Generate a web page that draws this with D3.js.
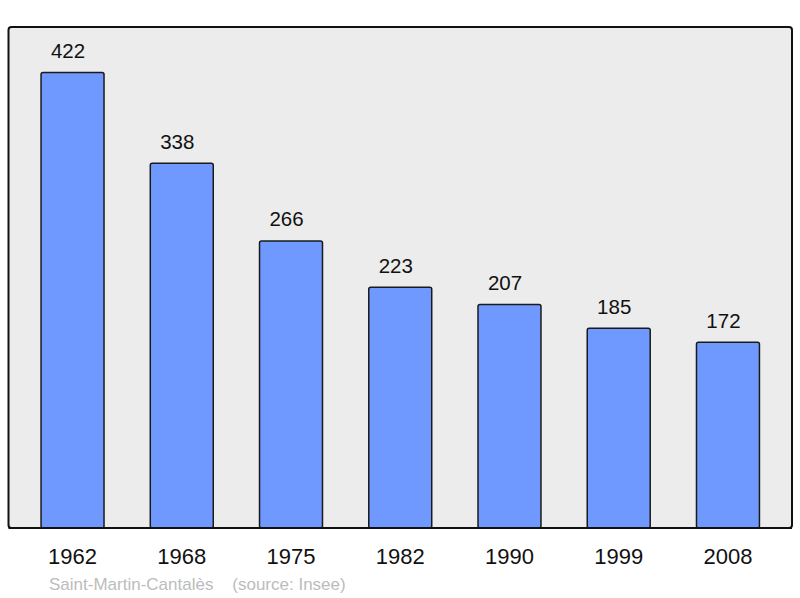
<!DOCTYPE html>
<html>
<head>
<meta charset="utf-8">
<script src="https://cdn.jsdelivr.net/npm/d3@7"></script>
<style>
  body { margin: 0; background: #fff; }
  text { font-family: "Liberation Sans", Arial, sans-serif; }
</style>
</head>
<body>
<div id="chart"></div>
<script>
const years = ["1962", "1968", "1975", "1982", "1990", "1999", "2008"];
const population = [422, 338, 266, 223, 207, 185, 172];
const commune = "Saint-Martin-Cantalès";
const source = "(source: Insee)";

const dimensions = {
    width: 800,
    height: 598,
    panel: { left: 8.5, top: 27, right: 792, bottom: 528 },
};

const svg = d3.select("#chart")
    .append("svg")
    .attr("width", dimensions.width)
    .attr("height", dimensions.height);

const p = dimensions.panel;

const x = d3.scaleBand()
    .domain(years)
    .range([p.left, p.right])
    .paddingInner(0.4236)
    .paddingOuter(0.298);

const y = d3.scaleLinear()
    .domain([0, d3.max(population) * 1.1])
    .range([p.bottom, p.top]);

// panel
svg.append("rect")
    .attr("x", p.left)
    .attr("y", p.top)
    .attr("width", p.right - p.left)
    .attr("height", p.bottom - p.top)
    .attr("rx", 3)
    .attr("fill", "#ececec")
    .attr("stroke", "#111")
    .attr("stroke-width", 2);

const data = years.map((yr, i) => ({ year: yr, value: population[i] }));

svg.selectAll("rect.bar")
    .data(data)
    .join("rect")
    .attr("class", "bar")
    .attr("x", d => x(d.year))
    .attr("y", d => y(d.value))
    .attr("width", x.bandwidth())
    .attr("height", d => y(0) - y(d.value))
    .attr("rx", 2)
    .attr("fill", "#7099ff")
    .attr("stroke", "#1a1a1a")
    .attr("stroke-width", 1.5);

// redraw bottom edge of panel over bars
svg.append("line")
    .attr("x1", p.left)
    .attr("x2", p.right)
    .attr("y1", p.bottom)
    .attr("y2", p.bottom)
    .attr("stroke", "#111")
    .attr("stroke-width", 2);

// value labels sit a little left of the bar centre in the original
svg.selectAll("text.value")
    .data(data)
    .join("text")
    .attr("class", "value")
    .attr("x", d => x(d.year) + x.bandwidth() / 2 - 4.5)
    .attr("y", d => y(d.value) - 14.5)
    .attr("text-anchor", "middle")
    .style("font-size", "20.5px")
    .attr("fill", "#111")
    .text(d => d.value);

svg.selectAll("text.year")
    .data(data)
    .join("text")
    .attr("class", "year")
    .attr("x", d => x(d.year) + x.bandwidth() / 2)
    .attr("y", 564)
    .attr("text-anchor", "middle")
    .style("font-size", "22px")
    .attr("fill", "#111")
    .text(d => d.year);

svg.append("text")
    .attr("x", 49)
    .attr("y", 590)
    .style("font-size", "17px")
    .style("white-space", "pre")
    .attr("fill", "#bcbcbc")
    .text(commune + "    " + source);
</script>
</body>
</html>
